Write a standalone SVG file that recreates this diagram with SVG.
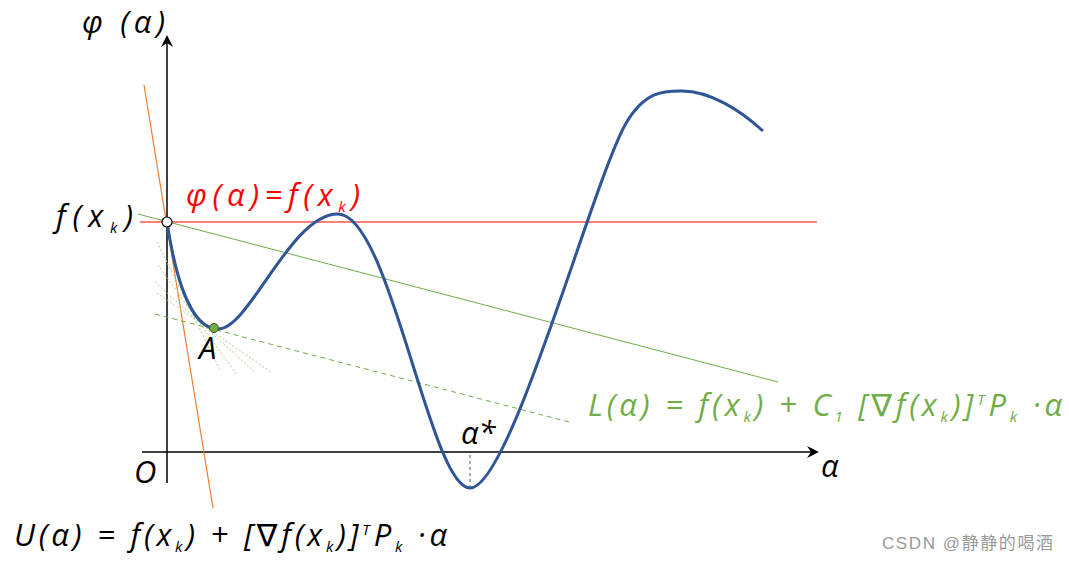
<svg xmlns="http://www.w3.org/2000/svg" width="1069" height="561" viewBox="0 0 1069 561">
<style>
.t{font-family:"Open Sans","DejaVu Sans",sans-serif;font-style:italic;font-size:31px;}
.s{font-size:15px;}
.axis{stroke:#000;stroke-width:1.5;fill:none;}
.fan{stroke:#a9d18e;stroke-width:1;stroke-dasharray:2 2;fill:none;}
</style>
<defs>
<marker id="arr" markerWidth="12" markerHeight="12" refX="10" refY="6" orient="auto" markerUnits="userSpaceOnUse">
<path d="M0,0 L12,6 L0,12 L4,6 Z" fill="#000"/>
</marker>
</defs>
<rect width="1069" height="561" fill="#fff"/>
<g id="connectors">
<line class="axis" x1="167" y1="483" x2="167" y2="37" marker-end="url(#arr)"/>
<line class="axis" x1="142" y1="452" x2="817" y2="452" marker-end="url(#arr)"/>
<line x1="140" y1="222" x2="817" y2="222" stroke="#ff0000" stroke-width="1.2"/>
<line x1="144" y1="85" x2="213" y2="508" stroke="#ed7d31" stroke-width="1.2"/>
<line x1="138" y1="214" x2="778" y2="382" stroke="#70ad47" stroke-width="1"/>
<line x1="155" y1="314" x2="573" y2="423" stroke="#70ad47" stroke-width="1" stroke-dasharray="5 4"/>
<line class="fan" x1="157" y1="242" x2="220" y2="370"/>
<line class="fan" x1="158" y1="265" x2="237" y2="375"/>
<line class="fan" x1="155" y1="282" x2="255" y2="372"/>
<line class="fan" x1="157" y1="293" x2="272" y2="373"/>
<line x1="470" y1="455" x2="470" y2="488" stroke="#2f5597" stroke-width="1" stroke-dasharray="3 3"/>
</g>
<g id="curve">
<path d="M167,222 C175,275 190,329 218,329 C250,329 290,214 338,214 C390,214 430,488 470,488 C510,488 590,190 625,125 C645,90 665,91 682,91 C710,91 740,110 763,131" fill="none" stroke="#2f5597" stroke-width="3"/>
</g>
<g id="start-point">
<circle cx="167" cy="222" r="5" fill="#fff" stroke="#000" stroke-width="1.2"/>
</g>
<g id="point-A">
<circle cx="214" cy="328" r="4.5" fill="#70ad47" stroke="#385723" stroke-width="1"/>
<text class="t" x="199" y="359">A</text>
</g>
<g id="labels">
<text class="t" x="82" y="33" textLength="83" lengthAdjust="spacing">φ (α)</text>
<text class="t" x="56" y="227" textLength="77" lengthAdjust="spacing">f(x<tspan class="s" dy="6">k</tspan><tspan dy="-6">)</tspan></text>
<text class="t" x="186" y="206" fill="#ff0000" textLength="174" lengthAdjust="spacing">φ(α)=f(x<tspan class="s" dy="6">k</tspan><tspan dy="-6">)</tspan></text>
<text class="t" x="134" y="483">O</text>
<text class="t" x="821" y="477">α</text>
<text class="t" x="461" y="444">α*</text>
<text class="t" x="588" y="416" fill="#70ad47" textLength="474" lengthAdjust="spacing">L(α) = f(x<tspan class="s" dy="6">k</tspan><tspan dy="-6">) + C</tspan><tspan class="s" dy="6">1</tspan><tspan dy="-6"> [∇f(x</tspan><tspan class="s" dy="6">k</tspan><tspan dy="-6">)]</tspan><tspan class="s" dy="-11">T</tspan><tspan dy="11">P</tspan><tspan class="s" dy="6">k</tspan><tspan dy="-6"> ·α</tspan></text>
<text class="t" x="14" y="546" fill="#000" textLength="433" lengthAdjust="spacing">U(α) = f(x<tspan class="s" dy="6">k</tspan><tspan dy="-6">) + [∇f(x</tspan><tspan class="s" dy="6">k</tspan><tspan dy="-6">)]</tspan><tspan class="s" dy="-11">T</tspan><tspan dy="11">P</tspan><tspan class="s" dy="6">k</tspan><tspan dy="-6"> ·α</tspan></text>
<text x="882" y="549" font-family="'Liberation Sans','Noto Sans CJK SC',sans-serif" font-size="17" fill="#999" textLength="171" lengthAdjust="spacing">CSDN @静静的喝酒</text>
</g>
</svg>
